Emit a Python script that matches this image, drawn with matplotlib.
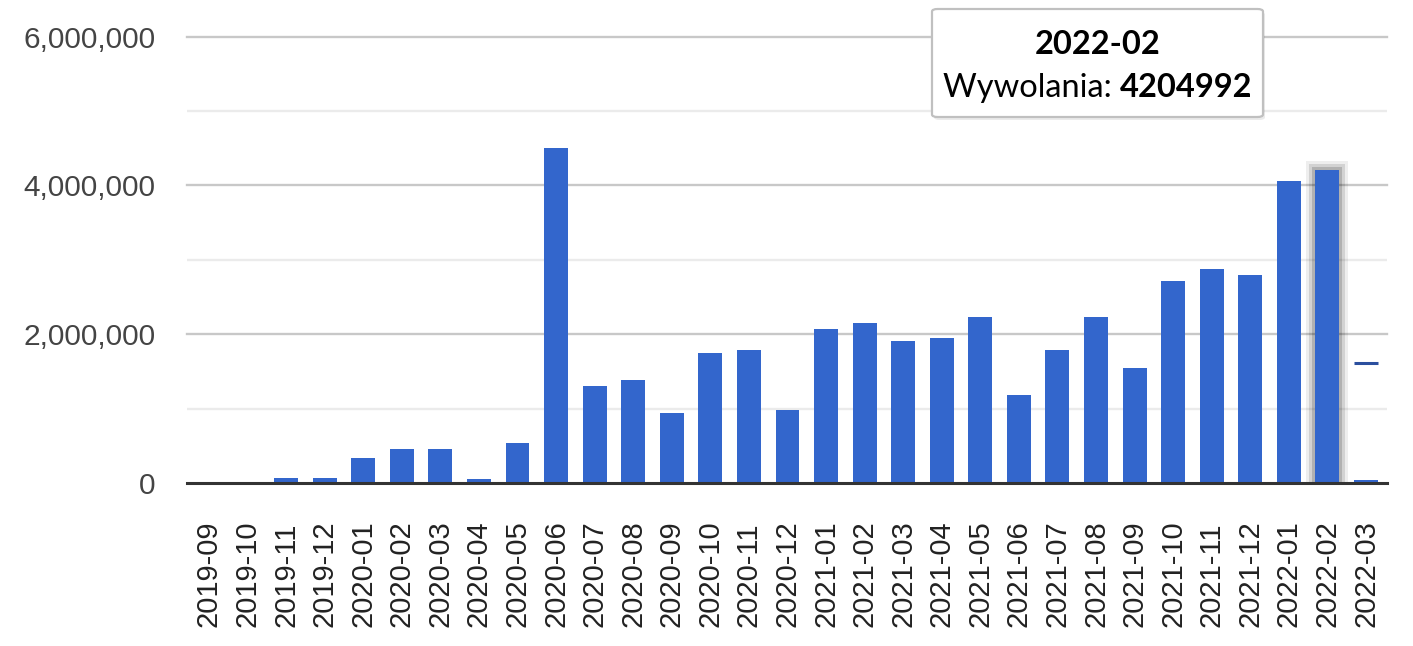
import matplotlib
matplotlib.use("Agg")
import matplotlib.pyplot as plt
from matplotlib.patches import Rectangle, FancyBboxPatch

# ---- data ----
months = ["2019-09", "2019-10", "2019-11", "2019-12", "2020-01", "2020-02", "2020-03",
          "2020-04", "2020-05", "2020-06", "2020-07", "2020-08", "2020-09", "2020-10",
          "2020-11", "2020-12", "2021-01", "2021-02", "2021-03", "2021-04", "2021-05",
          "2021-06", "2021-07", "2021-08", "2021-09", "2021-10", "2021-11", "2021-12",
          "2022-01", "2022-02", "2022-03"]
calls = [0, 0, 68000, 68000, 340000, 458000, 458000,
         55000, 540000, 4500000, 1306000, 1387000, 943000, 1751000,
         1791000, 983000, 2074000, 2155000, 1912000, 1953000, 2236000,
         1185000, 1791000, 2236000, 1549000, 2720000, 2882000, 2801000,
         4054000, 4204992, 40000]
march_marker = 1610000          # short dark segment shown above the 2022-03 bar
y_ticks = [0, 2000000, 4000000, 6000000]
y_minor = [1000000, 3000000, 5000000]
selected = "2022-02"
series_name = "Wywolania"

# ---- figure ----
W, H = 1413, 646
fig = plt.figure(figsize=(W / 100, H / 100), dpi=100)
ax_left, ax_right = 187, 1387
ax_bottom, ax_top = 483, 36.5
ax = fig.add_axes([ax_left / W, (H - ax_bottom) / H,
                   (ax_right - ax_left) / W, (ax_bottom - ax_top) / H])

x = list(range(len(months)))
bw = 0.62
ax.set_xlim(-0.568, len(months) - 1 + 0.544)
ax.set_ylim(0, 6000000)

for s in ax.spines.values():
    s.set_visible(False)

for v in y_minor:
    ax.axhline(v, color="#ebebeb", lw=1.7, zorder=0)
for v in y_ticks[1:]:
    ax.axhline(v, color="#c8c8c8", lw=1.7, zorder=0, clip_on=False)

# highlight of the selected bar
si = months.index(selected)
px_x = 1.0 / 38.6       # data units per pixel in x
px_y = 6000000 / (ax_bottom - ax_top)
for k, a in [(3, 0.065), (2, 0.112), (1, 0.157)]:
    ax.add_patch(Rectangle((si - bw / 2 - 3 * k * px_x, 0),
                           bw + 6 * k * px_x, calls[si] + 3 * k * px_y,
                           facecolor="black", alpha=a, lw=0, zorder=1))

ax.bar(x, calls, width=bw, color="#3366cc", zorder=2)
mi = len(months) - 1
ax.hlines(march_marker, mi - bw / 2, mi + bw / 2, color="#2b4f9e", lw=2.2, zorder=3)

ax.axhline(0, color="#333333", lw=2.2, zorder=4, clip_on=False)

ax.set_yticks(y_ticks)
ax.set_yticklabels([f"{v:,}" for v in y_ticks])
ax.tick_params(axis="y", length=0, pad=22.5, labelsize=21.5, labelcolor="#444444")
for lab in ax.get_yticklabels():
    lab.set_fontfamily("Liberation Sans")

ax.set_xticks(x)
ax.set_xticklabels(months, rotation=90)
ax.tick_params(axis="x", length=0, pad=103.5, labelsize=21, labelcolor="#222222")
for lab in ax.get_xticklabels():
    lab.set_fontfamily("Liberation Sans")
    lab.set_va("bottom")

# ---- tooltip ----
bx0, bx1, by0, by1 = 932, 1263, 9, 117
shadow = FancyBboxPatch((bx0 / W + 2 / W, (H - by1 - 3) / H), (bx1 - bx0) / W, (by1 - by0) / H,
                        boxstyle="round,pad=0,rounding_size=0.004", transform=fig.transFigure,
                        facecolor="#000000", alpha=0.08, lw=0, zorder=9)
fig.patches.append(shadow)
box = FancyBboxPatch((bx0 / W, (H - by1) / H), (bx1 - bx0) / W, (by1 - by0) / H,
                     boxstyle="round,pad=0,rounding_size=0.004", transform=fig.transFigure,
                     facecolor="white", edgecolor="#c0c0c0", lw=1.6, zorder=10)
fig.patches.append(box)

tfont = "Lato"
tsize = 23.5
cx = (bx0 + bx1) / 2 / W
fig.text(cx, (H - 54) / H, selected, ha="center", va="baseline", fontsize=tsize,
         fontweight="bold", family=tfont, zorder=11)
t1 = fig.text(0, (H - 97) / H, f"{series_name}: ", ha="left", va="baseline",
              fontsize=tsize, family=tfont, zorder=11)
t2 = fig.text(0, (H - 97) / H, f"{calls[si]}", ha="left", va="baseline",
              fontsize=tsize, fontweight="bold", family=tfont, zorder=11)
r = fig.canvas.get_renderer()
w1 = t1.get_window_extent(r).width
w2 = t2.get_window_extent(r).width
start = (bx0 + bx1) / 2 - (w1 + w2) / 2
t1.set_x(start / W)
t2.set_x((start + w1) / W)

fig.savefig("out.png", dpi=100)
